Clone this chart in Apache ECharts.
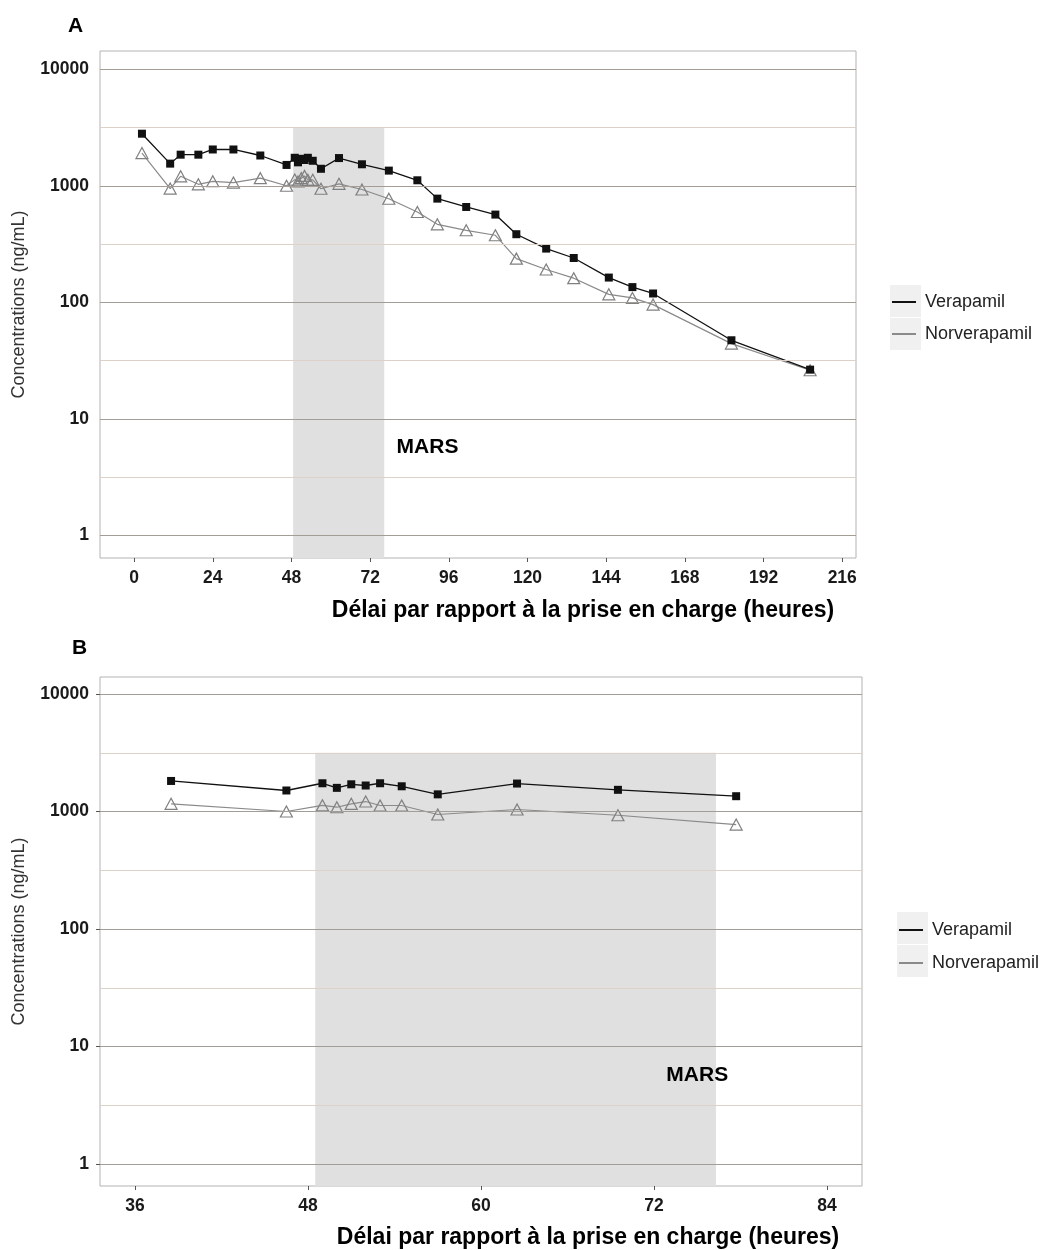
<!DOCTYPE html>
<html>
<head>
<meta charset="utf-8">
<script src="https://cdn.jsdelivr.net/npm/echarts@6/dist/echarts.min.js"></script>
<style>html,body{margin:0;padding:0;background:#fff;}#c{width:1040px;height:1250px;}</style>
</head>
<body>
<div id="c"></div>
<script>
// ---- data (hours after admission, ng/mL) ----
const hours = [2.4, 11, 14.2, 19.6, 24, 30.3, 38.5, 46.5, 49, 50, 51, 52, 53, 54.5, 57, 62.5, 69.5, 77.7,
  86.4, 92.5, 101.3, 110.2, 116.6, 125.7, 134.1, 144.8, 152, 158.3, 182.2, 206.2];
const verapamil = [2800, 1550, 1850, 1850, 2050, 2050, 1820, 1510, 1740, 1590, 1705, 1665, 1740, 1640, 1400, 1730, 1530, 1350,
  1115, 776, 658, 566, 384, 289, 240, 163, 135, 119, 47.2, 26.4];
const norverapamil = [1910, 946, 1206, 1030, 1093, 1065, 1163, 1000, 1130, 1088, 1163, 1216, 1125, 1125, 943, 1040, 930, 774,
  596, 467, 415, 376, 237, 191, 161, 117, 109, 95.5, 44.2, 26.1];
const seriesNames = ['Verapamil', 'Norverapamil'];
const xTicksA = [0, 24, 48, 72, 96, 120, 144, 168, 192, 216];
const xTicksB = [36, 48, 60, 72, 84];
const yTicks = [1, 10, 100, 1000, 10000];
const yMinorLines = [3.1623, 31.623, 316.23, 3162.3];
const marsWindow = [48.5, 76.3];      // MARS session (hours)
const marsTop = 3162.3;
const marsLabelA = [89.5, 5.7];
const marsLabelB = [75.0, 5.7];
const windowB = [36, 80];             // hours shown in panel B

// ---- styles ----
const FONT = "'Liberation Sans', Arial, sans-serif";
const majorCol = '#a39d95';
const minorCol = '#dcd2c8';
const yRangeA = [0.638, 14360];
const yRangeB = [0.65, 13960];
const xRangeA = [-10.4, 220.2];
const xRangeB = [33.57, 86.43];

function pts(vals, filter) {
  const out = [];
  hours.forEach((h, i) => { if (!filter || (h >= filter[0] && h <= filter[1])) out.push([h, vals[i]]); });
  return out;
}

function xAxis(idx, range, ticks) {
  return {
    type: 'value', gridIndex: idx, min: range[0], max: range[1],
    axisLine: { show: false },
    axisTick: { show: true, customValues: ticks, length: 4, lineStyle: { color: '#555' } },
    axisLabel: { customValues: ticks, fontFamily: FONT, fontWeight: 'bold', fontSize: 17.5, color: '#1a1a1a', margin: 11 },
    splitLine: { show: false }
  };
}
function yAxis(idx, range) {
  return {
    type: 'log', logBase: 10, gridIndex: idx, min: range[0], max: range[1],
    axisLine: { show: false },
    axisTick: { show: true, customValues: yTicks, length: 4, lineStyle: { color: '#555' } },
    axisLabel: { customValues: yTicks, fontFamily: FONT, fontWeight: 'bold', fontSize: 17.5, color: '#1a1a1a', margin: 11,
      formatter: v => String(Math.round(v)) },
    splitLine: { show: false },
    name: 'Concentrations (ng/mL)', nameLocation: 'middle', nameGap: 72,
    nameTextStyle: { fontFamily: FONT, fontSize: 18, color: '#333' }
  };
}
function panelSeries(idx, yRange, labelPos, filter) {
  const lines = yTicks.map(v => ({ yAxis: v, lineStyle: { color: majorCol, width: 1.2 } }))
    .concat(yMinorLines.map(v => ({ yAxis: v, lineStyle: { color: minorCol, width: 1.2 } })));
  return [
    { type: 'line', name: 'bg' + idx, xAxisIndex: idx, yAxisIndex: idx, data: [], z: 0, silent: true,
      markArea: { silent: true, itemStyle: { color: '#e0e0e0' },
        data: [[{ xAxis: marsWindow[0], yAxis: marsTop }, { xAxis: marsWindow[1], yAxis: yRange[0] }]] } },
    { type: 'line', name: 'grid' + idx, xAxisIndex: idx, yAxisIndex: idx, data: [], z: 1, silent: true,
      markLine: { silent: true, symbol: ['none', 'none'], label: { show: false }, lineStyle: { type: 'solid' }, data: lines },
      markPoint: { silent: true, symbol: 'circle', symbolSize: 0,
        data: [{ coord: labelPos, label: { show: true, position: 'inside', formatter: 'MARS',
          fontFamily: FONT, fontWeight: 'bold', fontSize: 21, color: '#000' } }] } },
    { type: 'line', name: seriesNames[0], xAxisIndex: idx, yAxisIndex: idx, data: pts(verapamil, filter), z: 3,
      symbol: 'rect', symbolSize: 8, showAllSymbol: true,
      itemStyle: { color: '#111' }, lineStyle: { color: '#111', width: 1.3 } },
    { type: 'line', name: seriesNames[1], xAxisIndex: idx, yAxisIndex: idx, data: pts(norverapamil, filter), z: 2,
      symbol: 'triangle', symbolSize: [12, 11], showAllSymbol: true,
      itemStyle: { color: 'rgba(255,255,255,0)', borderColor: '#808080', borderWidth: 1.2 },
      lineStyle: { color: '#8a8a8a', width: 1.2 } }
  ];
}
function legendItem(name, color, left, top) {
  return {
    left: left, top: top, padding: 0, orient: 'vertical', selectedMode: false,
    itemWidth: 24, itemHeight: 2, icon: 'rect',
    data: [{ name: name, icon: 'rect', itemStyle: { color: color, borderWidth: 0 } }],
    textStyle: { fontFamily: FONT, fontSize: 18, color: '#222', padding: [0, 0, 0, 4] }
  };
}

const chart = echarts.init(document.getElementById('c'), null, { renderer: 'canvas' });
chart.setOption({
  animation: false,
  backgroundColor: '#fff',
  grid: [
    { left: 100, top: 51, width: 756, height: 507, show: true, borderColor: '#b3b3b3', borderWidth: 1, backgroundColor: '#fff',
      containLabel: false, outerBoundsMode: 'none' },
    { left: 100, top: 677, width: 762, height: 509, show: true, borderColor: '#b3b3b3', borderWidth: 1, backgroundColor: '#fff',
      containLabel: false, outerBoundsMode: 'none' }
  ],
  xAxis: [xAxis(0, xRangeA, xTicksA), xAxis(1, xRangeB, xTicksB)],
  yAxis: [yAxis(0, yRangeA), yAxis(1, yRangeB)],
  legend: [
    legendItem(seriesNames[0], '#111', 892, 293),
    legendItem(seriesNames[1], '#8a8a8a', 892, 325),
    legendItem(seriesNames[0], '#111', 899, 921),
    legendItem(seriesNames[1], '#8a8a8a', 899, 954)
  ],
  graphic: [
    { type: 'rect', shape: { x: 890, y: 285, width: 31, height: 32 }, style: { fill: '#f0f0f0' }, z: -1 },
    { type: 'rect', shape: { x: 890, y: 318, width: 31, height: 32 }, style: { fill: '#f0f0f0' }, z: -1 },
    { type: 'rect', shape: { x: 897, y: 912, width: 31, height: 32 }, style: { fill: '#f0f0f0' }, z: -1 },
    { type: 'rect', shape: { x: 897, y: 945, width: 31, height: 32 }, style: { fill: '#f0f0f0' }, z: -1 },
    { type: 'text', left: 68, top: 16, style: { text: 'A', font: "bold 21px 'Liberation Sans', Arial", fill: '#000' } },
    { type: 'text', left: 72, top: 638, style: { text: 'B', font: "bold 21px 'Liberation Sans', Arial", fill: '#000' } },
    { type: 'text', x: 583, y: 611, style: { text: 'Délai par rapport à la prise en charge (heures)', font: "bold 23px 'Liberation Sans', Arial",
      fill: '#000', textAlign: 'center', textVerticalAlign: 'middle' } },
    { type: 'text', x: 588, y: 1238, style: { text: 'Délai par rapport à la prise en charge (heures)', font: "bold 23px 'Liberation Sans', Arial",
      fill: '#000', textAlign: 'center', textVerticalAlign: 'middle' } }
  ],
  series: panelSeries(0, yRangeA, marsLabelA, null).concat(panelSeries(1, yRangeB, marsLabelB, windowB))
});
</script>
</body>
</html>
